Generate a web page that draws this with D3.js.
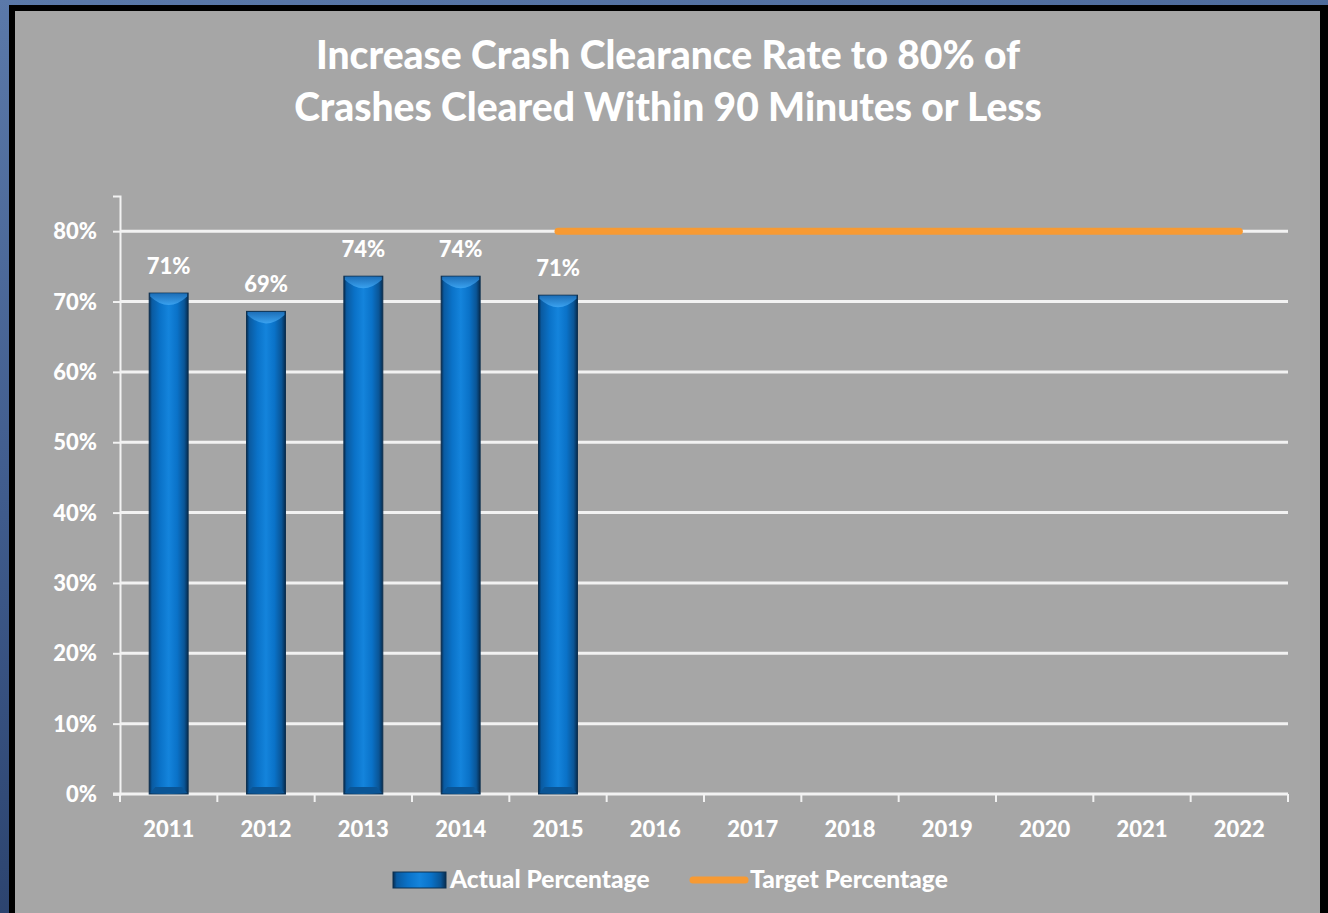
<!DOCTYPE html>
<html>
<head>
<meta charset="utf-8">
<script src="https://cdn.jsdelivr.net/npm/d3@7"></script>
<style>
  html, body { margin: 0; padding: 0; }
  body { width: 1328px; height: 913px; overflow: hidden;
         background: linear-gradient(170deg, #5b79a9 0%, #3f5b8c 45%, #22375f 100%); }
  svg { display: block; }
  text { font-family: Lato, "Open Sans", sans-serif; font-weight: 900; fill: #fff; }
</style>
</head>
<body>
<div id="chart"></div>
<script>
// chart data
var years = ["2011","2012","2013","2014","2015","2016","2017","2018","2019","2020","2021","2022"];
var actual = [0.712, 0.686, 0.736, 0.736, 0.709];   // 2011..2015
var actualLabels = ["71%","69%","74%","74%","71%"];
var targetYears = ["2015","2022"];
var targetValues = [0.80, 0.80];
var yTicks = [0, 0.1, 0.2, 0.3, 0.4, 0.5, 0.6, 0.7, 0.8];
var titleLines = ["Increase Crash Clearance Rate to 80% of", "Crashes Cleared Within 90 Minutes or Less"];
var legendNames = ["Actual Percentage", "Target Percentage"];

var W = 1328, H = 913;
var plotL = 120, plotR = 1288, plotT = 196, plotB = 794;

var svg = d3.select('#chart').append('svg')
    .attr('width', W)
    .attr('height', H);

var defs = svg.append('defs');
var g = defs.append('linearGradient').attr('id', 'barGrad')
    .attr('x1', 0).attr('x2', 1).attr('y1', 0).attr('y2', 0);
[['0%', '#062c50'], ['7%', '#0a5aa0'], ['28%', '#0a72c8'], ['50%', '#1484dc'],
 ['72%', '#0a72c8'], ['90%', '#0a5596'], ['100%', '#062c50']].forEach(function(s) {
    g.append('stop').attr('offset', s[0]).attr('stop-color', s[1]);
});
var gt = defs.append('linearGradient').attr('id', 'topGrad')
    .attr('x1', 0).attr('x2', 0).attr('y1', 0).attr('y2', 1);
gt.append('stop').attr('offset', '0%').attr('stop-color', '#1d6fb8');
gt.append('stop').attr('offset', '100%').attr('stop-color', '#3aa2f0');

// black frame + gray panel
svg.append('rect').attr('x', 9).attr('y', 5).attr('width', W - 9).attr('height', H - 5).attr('fill', '#000');
svg.append('rect').attr('x', 15).attr('y', 11).attr('width', 1305).attr('height', H - 11).attr('fill', '#a6a6a6');

// title
svg.append('g').selectAll('text')
    .data(titleLines)
    .enter()
    .append('text')
    .attr('x', 668)
    .attr('y', function(d, i) { return 69 + i * 52; })
    .attr('text-anchor', 'middle')
    .style('font-size', '39px')
    .text(function(d) { return d; });

var x = d3.scaleBand().domain(years).range([plotL, plotR]).paddingInner(0).paddingOuter(0);
var y = d3.scaleLinear().domain([0, 0.85]).range([plotB, plotT]);

// gridlines
svg.append('g').selectAll('line')
    .data(yTicks.filter(function(d) { return d > 0; }))
    .enter()
    .append('line')
    .attr('x1', plotL).attr('x2', plotR)
    .attr('y1', function(d) { return y(d); })
    .attr('y2', function(d) { return y(d); })
    .style('stroke', '#f2f2f2')
    .style('stroke-width', 3);

// y axis
var yAxis = d3.axisLeft(y).tickValues(yTicks).tickFormat(d3.format('.0%')).tickSize(7).tickPadding(16);
var ya = svg.append('g').attr('transform', 'translate(' + plotL + ',0)').call(yAxis);
ya.select('.domain').style('stroke', '#f2f2f2').style('stroke-width', 2);
ya.selectAll('.tick line').style('stroke', '#f2f2f2').style('stroke-width', 2);
ya.selectAll('.tick text').style('font-size', '22px').attr('dy', '0.35em')
    .style('fill', '#fff').style('font-family', 'Lato, sans-serif').style('font-weight', 900);

// x axis
svg.append('line').attr('x1', plotL - 7).attr('x2', plotR)
    .attr('y1', plotB).attr('y2', plotB)
    .style('stroke', '#f2f2f2').style('stroke-width', 3);
var xt = years.map(function(d) { return x(d); }).concat([plotR]);
svg.append('g').selectAll('line')
    .data(xt)
    .enter()
    .append('line')
    .attr('x1', function(d) { return d; }).attr('x2', function(d) { return d; })
    .attr('y1', plotB).attr('y2', plotB + 8)
    .style('stroke', '#f2f2f2').style('stroke-width', 2);
svg.append('g').selectAll('text')
    .data(years)
    .enter()
    .append('text')
    .attr('x', function(d) { return x(d) + x.bandwidth() / 2; })
    .attr('y', 837)
    .attr('text-anchor', 'middle')
    .style('font-size', '22px')
    .text(function(d) { return d; });

// bars
var bw = x.bandwidth() * 0.4;
function bx(i) { return x(years[i]) + x.bandwidth() / 2 - bw / 2; }
var bars = svg.append('g').selectAll('g')
    .data(actual)
    .enter()
    .append('g');
bars.append('rect')
    .attr('x', function(d, i) { return bx(i); })
    .attr('y', function(d) { return y(d); })
    .attr('width', bw)
    .attr('height', function(d) { return plotB - y(d); })
    .attr('fill', 'url(#barGrad)')
    .style('stroke', '#0d3050').style('stroke-width', 1);
// bevel highlight on top of each bar
bars.append('path')
    .attr('d', function(d, i) {
        var x0 = bx(i), y0 = y(d) + 0.5;
        return 'M' + (x0 + 1) + ',' + y0 + 'L' + (x0 + bw - 1) + ',' + y0 +
            'L' + (x0 + bw - 1) + ',' + (y0 + 3) +
            'Q' + (x0 + bw / 2) + ',' + (y0 + 20) + ' ' + (x0 + 1) + ',' + (y0 + 3) + 'Z';
    })
    .attr('fill', 'url(#topGrad)');
bars.append('path')
    .attr('d', function(d, i) {
        var x0 = bx(i), y1 = plotB - 1;
        return 'M' + (x0 + 1) + ',' + y1 + 'L' + (x0 + bw - 1) + ',' + y1 +
            'L' + (x0 + bw - 6) + ',' + (y1 - 6) + 'L' + (x0 + 6) + ',' + (y1 - 6) + 'Z';
    })
    .attr('fill', '#0a5596');
bars.append('text')
    .attr('x', function(d, i) { return x(years[i]) + x.bandwidth() / 2; })
    .attr('y', function(d) { return y(d) - 19; })
    .attr('text-anchor', 'middle')
    .style('font-size', '22px')
    .text(function(d, i) { return actualLabels[i]; });

// target line
var line = d3.line()
    .x(function(d, i) { return x(targetYears[i]) + x.bandwidth() / 2; })
    .y(function(d) { return y(d); });
svg.append('path')
    .datum(targetValues)
    .attr('d', line)
    .style('fill', 'none')
    .style('stroke', '#f79a33')
    .style('stroke-width', 7)
    .style('stroke-linecap', 'round');

// legend
var lg = svg.append('g');
lg.append('rect').attr('x', 393).attr('y', 872).attr('width', 53).attr('height', 16)
    .attr('fill', 'url(#barGrad)').style('stroke', '#0d3050').style('stroke-width', 1);
lg.append('text').attr('x', 450).attr('y', 888).style('font-size', '24.5px').text(legendNames[0]);
lg.append('line').attr('x1', 693).attr('x2', 745).attr('y1', 880).attr('y2', 880)
    .style('stroke', '#f79a33').style('stroke-width', 7).style('stroke-linecap', 'round');
lg.append('text').attr('x', 750).attr('y', 888).style('font-size', '24.5px').text(legendNames[1]);
</script>
</body>
</html>
